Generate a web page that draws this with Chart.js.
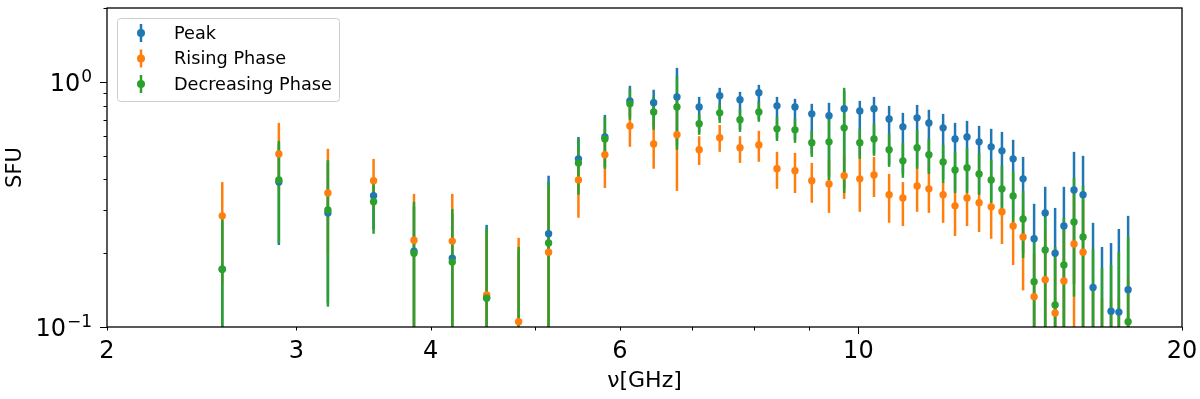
<!DOCTYPE html>
<html>
<head>
<meta charset="utf-8">
<script src="https://cdn.jsdelivr.net/npm/chart.js@4"></script>
<style>
  html, body { margin: 0; padding: 0; background: #fff; }
</style>
</head>
<body>
<canvas id="chart" width="1200" height="399"></canvas>
<script>
// frequencies (GHz)
const freq = [2.56, 2.89, 3.21, 3.54, 3.86, 4.19, 4.51, 4.83, 5.15, 5.49,
  5.81, 6.13, 6.45, 6.78, 7.11, 7.43, 7.76, 8.08, 8.40, 8.73,
  9.05, 9.39, 9.70, 10.03, 10.34, 10.68, 11.00, 11.34, 11.63, 11.99,
  12.30, 12.62, 12.95, 13.29, 13.60, 13.93, 14.23, 14.57, 14.92, 15.24,
  15.53, 15.87, 16.18, 16.53, 16.85, 17.18, 17.47, 17.82];

// Peak
const peakVals = [0.172, 0.39, 0.292, 0.343, 0.204, 0.191, 0.132, 0.09, 0.24, 0.485,
  0.596, 0.836, 0.821, 0.868, 0.79, 0.877, 0.845, 0.902, 0.798, 0.79,
  0.74, 0.727, 0.776, 0.761, 0.776, 0.706, 0.655, 0.713, 0.68, 0.649,
  0.585, 0.596, 0.569, 0.543, 0.523, 0.485, 0.402, 0.229, 0.292, 0.20,
  0.258, 0.362, 0.346, 0.145, 0.095, 0.116, 0.115, 0.142];
const peakLo = [0.06, 0.216, 0.125, 0.25, 0.05, 0.05, 0.05, 0.03, 0.05, 0.36,
  0.45, 0.72, 0.66, 0.55, 0.62, 0.70, 0.64, 0.70, 0.59, 0.58,
  0.51, 0.41, 0.37, 0.50, 0.51, 0.46, 0.42, 0.45, 0.43, 0.40,
  0.36, 0.36, 0.35, 0.33, 0.31, 0.28, 0.20, 0.05, 0.05, 0.05,
  0.05, 0.15, 0.10, 0.05, 0.03, 0.03, 0.03, 0.04];
const peakHi = [0.27, 0.56, 0.47, 0.39, 0.31, 0.29, 0.261, 0.20, 0.414, 0.596,
  0.733, 0.963, 0.928, 1.14, 0.868, 0.945, 0.91, 0.972, 0.868, 0.852,
  0.813, 0.821, 0.92, 0.836, 0.868, 0.798, 0.747, 0.805, 0.769, 0.74,
  0.68, 0.693, 0.661, 0.643, 0.625, 0.58, 0.494, 0.318, 0.373, 0.306,
  0.373, 0.518, 0.499, 0.266, 0.212, 0.22, 0.251, 0.284];

// Rising Phase
const riseVals = [0.284, 0.508, 0.352, 0.395, 0.226, 0.224, 0.135, 0.105, 0.202, 0.398,
  0.504, 0.661, 0.558, 0.608, 0.528, 0.591, 0.538, 0.553, 0.442, 0.434,
  0.395, 0.383, 0.414, 0.402, 0.417, 0.346, 0.336, 0.376, 0.366, 0.346,
  0.312, 0.336, 0.321, 0.309, 0.295, 0.258, 0.233, 0.133, 0.156, 0.114,
  0.154, 0.218, 0.202, 0.07, 0.06, 0.06, 0.065, 0.08];
const riseLo = [0.15, 0.36, 0.20, 0.30, 0.08, 0.08, 0.05, 0.03, 0.05, 0.279,
  0.369, 0.543, 0.442, 0.359, 0.458, 0.518, 0.467, 0.472, 0.366, 0.352,
  0.321, 0.292, 0.333, 0.295, 0.339, 0.266, 0.258, 0.295, 0.292, 0.266,
  0.235, 0.258, 0.244, 0.229, 0.218, 0.179, 0.141, 0.05, 0.05, 0.05,
  0.05, 0.05, 0.05, 0.03, 0.03, 0.03, 0.03, 0.03];
const riseHi = [0.39, 0.68, 0.533, 0.485, 0.349, 0.349, 0.24, 0.231, 0.37, 0.52,
  0.64, 0.80, 0.70, 0.85, 0.60, 0.667, 0.60, 0.631, 0.518, 0.513,
  0.467, 0.48, 0.50, 0.50, 0.494, 0.421, 0.39, 0.45, 0.43, 0.39,
  0.36, 0.36, 0.35, 0.33, 0.31, 0.28, 0.30, 0.20, 0.25, 0.19,
  0.25, 0.35, 0.33, 0.15, 0.13, 0.13, 0.13, 0.16];

// Decreasing Phase
const decVals = [0.172, 0.398, 0.30, 0.324, 0.20, 0.184, 0.131, 0.09, 0.22, 0.467,
  0.585, 0.813, 0.754, 0.79, 0.674, 0.747, 0.70, 0.754, 0.643, 0.637,
  0.564, 0.569, 0.649, 0.564, 0.585, 0.528, 0.476, 0.538, 0.504, 0.471,
  0.437, 0.446, 0.421, 0.398, 0.366, 0.342, 0.276, 0.153, 0.206, 0.123,
  0.179, 0.268, 0.233, 0.09, 0.08, 0.085, 0.09, 0.105];
const decLo = [0.05, 0.22, 0.121, 0.24, 0.05, 0.05, 0.05, 0.03, 0.05, 0.346,
  0.442, 0.70, 0.637, 0.528, 0.608, 0.68, 0.625, 0.687, 0.574, 0.564,
  0.494, 0.398, 0.352, 0.485, 0.499, 0.45, 0.406, 0.442, 0.421, 0.387,
  0.352, 0.352, 0.346, 0.321, 0.30, 0.266, 0.191, 0.05, 0.05, 0.05,
  0.05, 0.133, 0.05, 0.03, 0.03, 0.03, 0.03, 0.03];
const decHi = [0.279, 0.574, 0.48, 0.40, 0.324, 0.303, 0.254, 0.212, 0.39, 0.585,
  0.72, 0.936, 0.868, 1.05, 0.74, 0.81, 0.776, 0.83, 0.72, 0.706,
  0.631, 0.747, 0.945, 0.643, 0.674, 0.613, 0.564, 0.637, 0.585, 0.553,
  0.518, 0.538, 0.513, 0.48, 0.454, 0.43, 0.359, 0.237, 0.282, 0.212,
  0.279, 0.406, 0.376, 0.208, 0.174, 0.179, 0.202, 0.233];

// axis ticks
const xTicks = [2, 3, 4, 5, 6, 7, 8, 9, 10, 20];
const xLabels = [2, 3, 4, 6, 10, 20];
const xMajor = [10];
const yTicks = [0.1, 0.2, 0.3, 0.4, 0.5, 0.6, 0.7, 0.8, 0.9, 1, 2];
const yMajor = [0.1, 1];
// 10 的幂：底数 + 指数
const yLabelVals = [0.1, 1];
const yLabelExps = ['\u22121', '0'];

const series = [
  { label: 'Peak', color: '#1f77b4', vals: peakVals, lo: peakLo, hi: peakHi },
  { label: 'Rising Phase', color: '#ff7f0e', vals: riseVals, lo: riseLo, hi: riseHi },
  { label: 'Decreasing Phase', color: '#2ca02c', vals: decVals, lo: decLo, hi: decHi }
];

const FONT = 'DejaVu Sans';
const BAR_W = 2.5;
const DOT_R = 3.7;

// 误差棒：全部画在点的下面
const errorBars = {
  id: 'errorBars',
  beforeDatasetsDraw(chart) {
    const { ctx, chartArea: a, scales: { x, y } } = chart;
    ctx.save();
    ctx.beginPath();
    ctx.rect(a.left, a.top, a.right - a.left, a.bottom - a.top);
    ctx.clip();
    ctx.lineWidth = BAR_W;
    series.forEach(s => {
      ctx.strokeStyle = s.color;
      freq.forEach((f, i) => {
        const px = x.getPixelForValue(f);
        ctx.beginPath();
        ctx.moveTo(px, y.getPixelForValue(s.lo[i]));
        ctx.lineTo(px, y.getPixelForValue(s.hi[i]));
        ctx.stroke();
      });
    });
    ctx.restore();
  }
};

// 边框、刻度线、y 轴的幂次标签
const frame = {
  id: 'frame',
  afterDatasetsDraw(chart) {
    const { ctx, chartArea: a, scales: { x, y } } = chart;
    ctx.save();
    ctx.strokeStyle = '#000';
    ctx.lineWidth = 1;
    xTicks.forEach(v => {
      const px = Math.round(x.getPixelForValue(v)) + 0.5;
      const len = xMajor.includes(v) ? 7 : 3.5;
      ctx.beginPath();
      ctx.moveTo(px, a.bottom);
      ctx.lineTo(px, a.bottom + len);
      ctx.stroke();
    });
    yTicks.forEach(v => {
      const py = Math.round(y.getPixelForValue(v)) + 0.5;
      const len = yMajor.includes(v) ? 7 : 3.5;
      ctx.beginPath();
      ctx.moveTo(a.left, py);
      ctx.lineTo(a.left - len, py);
      ctx.stroke();
    });
    ctx.lineWidth = 1.3;
    ctx.strokeRect(a.left, a.top, a.right - a.left, a.bottom - a.top);

    ctx.fillStyle = '#000';
    ctx.textBaseline = 'alphabetic';
    ctx.textAlign = 'left';
    yLabelVals.forEach((v, i) => {
      const py = y.getPixelForValue(v);
      const right = a.left - 15;
      ctx.font = '17px "' + FONT + '"';
      const wExp = ctx.measureText(yLabelExps[i]).width;
      ctx.font = '24px "' + FONT + '"';
      const wBase = ctx.measureText('10').width;
      const base = py + 8.8;
      ctx.fillText('10', right - wExp - 1 - wBase, base);
      ctx.font = '17px "' + FONT + '"';
      ctx.fillText(yLabelExps[i], right - wExp, base - 9);
    });
    ctx.restore();
  }
};

// 图例（带误差棒样式的标记）
const legendBox = {
  id: 'legendBox',
  afterDraw(chart) {
    const { ctx, chartArea: a } = chart;
    const bx = a.left + 10, by = a.top + 10, bw = 222, bh = 83;
    ctx.save();
    ctx.fillStyle = 'rgba(255,255,255,0.8)';
    ctx.strokeStyle = '#cccccc';
    ctx.lineWidth = 1;
    ctx.beginPath();
    ctx.roundRect(bx + 0.5, by + 0.5, bw, bh, 3);
    ctx.fill();
    ctx.stroke();
    ctx.font = '17.7px "' + FONT + '"';
    ctx.textBaseline = 'middle';
    ctx.fillStyle = '#000';
    series.forEach((s, k) => {
      const cy = by + 15 + k * 25.5;
      const mx = bx + 24;
      ctx.strokeStyle = s.color;
      ctx.lineWidth = BAR_W;
      ctx.beginPath();
      ctx.moveTo(mx, cy - 9);
      ctx.lineTo(mx, cy + 9);
      ctx.stroke();
      ctx.fillStyle = s.color;
      ctx.beginPath();
      ctx.arc(mx, cy, DOT_R + 0.3, 0, Math.PI * 2);
      ctx.fill();
      ctx.fillStyle = '#000';
      ctx.fillText(s.label, bx + 57, cy + 1);
    });
    ctx.restore();
  }
};

const ctx = document.getElementById('chart').getContext('2d');
new Chart(ctx, {
  type: 'scatter',
  data: {
    datasets: series.map((s, k) => ({
      label: s.label,
      data: freq.map((f, i) => ({ x: f, y: s.vals[i] })),
      pointRadius: DOT_R,
      pointHoverRadius: DOT_R,
      pointBackgroundColor: s.color,
      pointBorderWidth: 0,
      borderColor: s.color,
      showLine: false,
      order: series.length - k
    }))
  },
  options: {
    responsive: false,
    animation: false,
    events: [],
    layout: { padding: { top: 8, right: 18, left: 0, bottom: 0 } },
    plugins: { legend: { display: false }, tooltip: { enabled: false } },
    scales: {
      x: {
        type: 'logarithmic',
        min: 2,
        max: 20,
        afterBuildTicks: s => { s.ticks = xTicks.map(v => ({ value: v })); },
        afterFit: s => { s.height = 72; s.paddingLeft = 0; s.paddingRight = 0; },
        grid: { display: false, drawTicks: false },
        border: { display: false },
        ticks: {
          autoSkip: false,
          maxRotation: 0,
          padding: 10,
          color: '#000',
          font: { family: FONT, size: 24 },
          callback: v => xLabels.includes(v) ? String(v) : ''
        },
        title: {
          display: true,
          text: '\u03BD[GHz]',
          color: '#000',
          font: { family: FONT, size: 22 },
          padding: { top: 0, bottom: 5 }
        }
      },
      y: {
        type: 'logarithmic',
        min: 0.1,
        max: 2,
        afterBuildTicks: s => { s.ticks = yTicks.map(v => ({ value: v })); },
        afterFit: s => { s.width = 107; s.paddingTop = 0; s.paddingBottom = 0; },
        grid: { display: false, drawTicks: false },
        border: { display: false },
        ticks: {
          autoSkip: false,
          padding: 14,
          color: '#000',
          font: { family: FONT, size: 24 },
          callback: () => ''
        },
        title: {
          display: true,
          text: 'SFU',
          color: '#000',
          font: { family: FONT, size: 21 },
          padding: { top: 3, bottom: 0 }
        }
      }
    }
  },
  plugins: [errorBars, frame, legendBox]
});
</script>
</body>
</html>
